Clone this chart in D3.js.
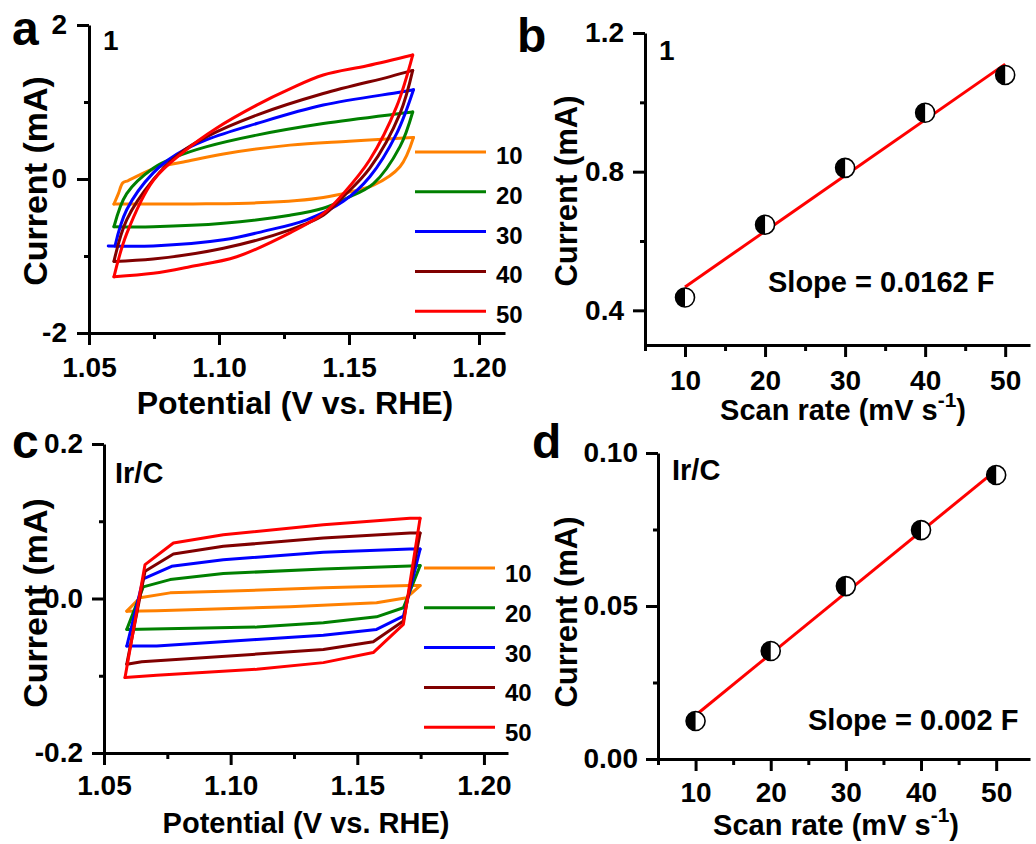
<!DOCTYPE html>
<html lang="en">
<head>
<meta charset="utf-8">
<title>CV and double-layer capacitance</title>
<script src="https://d3js.org/d3.v7.min.js"></script>
<style>
  body { margin: 0; background: #fff; }
  svg text { font-family: "Liberation Sans", Arial, sans-serif; font-weight: bold; fill: #000; }
</style>
</head>
<body>
<div id="chart"></div>
<script>
// ---------------- data ----------------
// scan rates (mV/s) used for legend and linear fits
const scanRates = [10, 20, 30, 40, 50];
const seriesColors = ["#ff8000", "#008000", "#0000ff", "#800000", "#ff0000"];

// panel a: CV loops of sample 1, [potential V, current mA]
const cvA10 = [[1.0596,-0.325],[1.0760,-0.325],[1.0950,-0.322],[1.1145,-0.31],[1.1300,-0.28],[1.1401,-0.24],[1.1500,-0.17],[1.1594,-0.08],[1.1696,0.16],[1.1748,0.54],
               [1.1696,0.53],[1.1500,0.49],[1.1273,0.44],[1.1017,0.325],[1.0863,0.22],[1.0760,0.15],[1.0651,-0.02],[1.0630,-0.05],[1.0613,-0.19],[1.0596,-0.325]];
const cvA20 = [[1.0596,-0.62],[1.0747,-0.62],[1.1017,-0.575],[1.1273,-0.47],[1.1401,-0.38],[1.1491,-0.25],[1.1594,-0.06],[1.1696,0.42],[1.1745,0.87],
               [1.1696,0.85],[1.1401,0.72],[1.1145,0.57],[1.0953,0.42],[1.0837,0.29],[1.0747,0.14],[1.0645,-0.19],[1.0596,-0.62]];
const cvA30 = [[1.0574,-0.87],[1.0747,-0.87],[1.1017,-0.79],[1.1170,-0.68],[1.1337,-0.53],[1.1478,-0.29],[1.1580,0.03],[1.1683,0.59],[1.1748,1.16],
               [1.1700,1.13],[1.1401,0.96],[1.1145,0.72],[1.0953,0.51],[1.0837,0.32],[1.0747,0.08],[1.0645,-0.40],[1.0600,-0.87]];
const cvA40 = [[1.0596,-1.07],[1.0747,-1.04],[1.1017,-0.90],[1.1273,-0.66],[1.1401,-0.47],[1.1478,-0.23],[1.1580,0.14],[1.1696,0.85],[1.1745,1.41],
               [1.1658,1.33],[1.1401,1.11],[1.1145,0.83],[1.0953,0.55],[1.0848,0.33],[1.0747,-0.01],[1.0645,-0.53],[1.0596,-1.07]];
const cvA50 = [[1.0596,-1.27],[1.0747,-1.225],[1.0888,-1.14],[1.1068,-1.01],[1.1273,-0.70],[1.1401,-0.45],[1.1478,-0.19],[1.1580,0.25],[1.1683,0.94],[1.1745,1.61],
               [1.1570,1.47],[1.1401,1.35],[1.1273,1.17],[1.1145,0.96],[1.0990,0.66],[1.0863,0.35],[1.0747,-0.02],[1.0645,-0.71],[1.0596,-1.27]];

// panel c: CV loops of Ir/C
const cvC10 = [[1.0590,-0.0164],[1.0708,-0.016],[1.1234,-0.0107],[1.1576,-0.0056],[1.1695,0.001],[1.1748,0.0168],
               [1.1708,0.0168],[1.1366,0.0138],[1.0971,0.0094],[1.0761,0.0073],[1.0642,0.001],[1.0590,-0.0164]];
const cvC20 = [[1.0590,-0.040],[1.1103,-0.037],[1.1366,-0.0314],[1.1576,-0.0237],[1.1682,-0.012],[1.1748,0.0426],
               [1.1708,0.042],[1.1366,0.0383],[1.0971,0.0323],[1.0761,0.0245],[1.0655,0.015],[1.0590,-0.040]];
const cvC30 = [[1.0590,-0.0615],[1.0708,-0.0615],[1.1103,-0.053],[1.1366,-0.0477],[1.1576,-0.040],[1.1682,-0.0228],[1.1748,0.064],
               [1.1708,0.064],[1.1366,0.0598],[1.0971,0.0503],[1.0767,0.0417],[1.0655,0.0254],[1.0590,-0.0615]];
const cvC40 = [[1.0590,-0.085],[1.0649,-0.082],[1.1103,-0.072],[1.1366,-0.066],[1.1563,-0.056],[1.1682,-0.029],[1.1748,0.0848],
               [1.1708,0.0848],[1.1366,0.0783],[1.0971,0.0675],[1.0774,0.0577],[1.0662,0.0352],[1.0590,-0.085]];
const cvC50 = [[1.0583,-0.1023],[1.0708,-0.0994],[1.1103,-0.0916],[1.1366,-0.083],[1.1563,-0.070],[1.1682,-0.0335],[1.1748,0.104],
               [1.1708,0.104],[1.1366,0.0955],[1.0971,0.0826],[1.0774,0.0718],[1.0662,0.0439],[1.0583,-0.1023]];

// panels b and d: current vs scan rate
const currentB = [0.437, 0.647, 0.811, 0.970, 1.079];
const currentD = [0.0124, 0.0353, 0.0565, 0.0748, 0.0928];

// tick labels
const ticksAy = [-2, 0, 2], minorAy = [-1, 1];
const ticksCVx = [1.05, 1.10, 1.15, 1.20], minorCVx = [1.075, 1.125, 1.175];
const ticksBy = [0.4, 0.8, 1.2], minorBy = [0.6, 1.0];
const ticksCy = [-0.2, 0.0, 0.2], minorCy = [-0.1, 0.1];
const ticksDy = [0.00, 0.05, 0.10], minorDy = [0.025, 0.075];
const ticksRate = [10, 20, 30, 40, 50], minorRate = [5, 15, 25, 35, 45];

// ---------------- drawing ----------------
const svg = d3.select("#chart").append("svg")
  .attr("width", 1036).attr("height", 844);

function styleAxis(g, fs) {
  g.select(".domain").attr("stroke", "#000").attr("stroke-width", 3);
  g.selectAll(".tick line").attr("stroke", "#000").attr("stroke-width", 3);
  g.selectAll(".tick text").attr("font-size", fs).attr("fill", "#000");
}

// draws x/y axes with major + minor ticks
function drawAxes(p) {
  const gx = svg.append("g").attr("transform", "translate(0," + p.y.range()[0] + ")");
  gx.call(d3.axisBottom(p.x).tickValues(p.xMinor).tickSize(6).tickSizeOuter(0).tickFormat(""));
  gx.call(styleAxis, p.fs);
  const gx2 = svg.append("g").attr("transform", "translate(0," + p.y.range()[0] + ")");
  gx2.call(d3.axisBottom(p.x).tickValues(p.xTicks).tickSize(12).tickSizeOuter(0)
      .tickPadding(p.xPad).tickFormat(p.xFmt));
  gx2.call(styleAxis, p.fs);
  gx2.select(".domain").remove();

  const gy = svg.append("g").attr("transform", "translate(" + p.x.range()[0] + ",0)");
  gy.call(d3.axisLeft(p.y).tickValues(p.yMinor).tickSize(5).tickSizeOuter(0).tickFormat(""));
  gy.call(styleAxis, p.fs);
  const gy2 = svg.append("g").attr("transform", "translate(" + p.x.range()[0] + ",0)");
  gy2.call(d3.axisLeft(p.y).tickValues(p.yTicks).tickSize(12).tickSizeOuter(0)
      .tickPadding(p.yPad).tickFormat(p.yFmt));
  gy2.call(styleAxis, p.fs);
  gy2.select(".domain").remove();
}

function label(x, y, txt, fs, anchor) {
  return svg.append("text").attr("x", x).attr("y", y)
    .attr("font-size", fs).attr("text-anchor", anchor || "start").text(txt);
}

function yTitle(cx, cy, fs) {
  svg.append("text")
    .attr("transform", "translate(" + cx + "," + cy + ") rotate(-90)")
    .attr("text-anchor", "middle").attr("font-size", fs)
    .text("Current (mA)");
}

function rateTitle(cx, by, fs) {
  const t = svg.append("text").attr("x", cx).attr("y", by)
    .attr("text-anchor", "middle").attr("font-size", fs);
  t.append("tspan").text("Scan rate (mV s");
  t.append("tspan").attr("dy", -13).attr("font-size", fs * 0.72).text("-1");
  t.append("tspan").attr("dy", 13).text(")");
}

// CV panel
function cvPanel(o) {
  const x = d3.scaleLinear().domain(o.xDom).range(o.xRange);
  const y = d3.scaleLinear().domain(o.yDom).range(o.yRange);
  drawAxes({x, y, fs: o.fs, xTicks: ticksCVx, xMinor: minorCVx, xPad: o.xPad, xFmt: d => d.toFixed(2),
            yTicks: o.yTicks, yMinor: o.yMinor, yPad: o.yPad, yFmt: o.yFmt});
  const line = d3.line().x(d => x(d[0])).y(d => y(d[1])).curve(o.curve);
  o.loops.forEach((loop, i) => {
    // split at the vertex-potential corner so the corners stay sharp
    const iMax = d3.maxIndex(loop, d => d[0]);
    [loop.slice(0, iMax + 1), loop.slice(iMax)].forEach(branch => {
      svg.append("path").datum(branch).attr("d", line)
        .attr("fill", "none").attr("stroke", seriesColors[i])
        .attr("stroke-width", 3).attr("stroke-linejoin", "round").attr("stroke-linecap", "round");
    });
  });
  // legend
  scanRates.forEach((r, i) => {
    const ly = o.legY + i * o.legStep;
    svg.append("line").attr("x1", o.legX).attr("x2", o.legX + 71)
      .attr("y1", ly).attr("y2", ly)
      .attr("stroke", seriesColors[i]).attr("stroke-width", 3);
    label(o.legX + 81, ly + o.legDy, r, 24);
  });
  label((o.xRange[0] + o.xRange[1]) / 2 + o.titleDx, o.titleY, "Potential (V vs. RHE)", o.titleFs, "middle");
}

// scan-rate panel with linear fit
function ratePanel(o) {
  const x = d3.scaleLinear().domain(o.xDom).range(o.xRange);
  const y = d3.scaleLinear().domain(o.yDom).range(o.yRange);
  drawAxes({x, y, fs: o.fs, xTicks: ticksRate, xMinor: minorRate, xPad: o.xPad, xFmt: d3.format("d"),
            yTicks: o.yTicks, yMinor: o.yMinor, yPad: o.yPad, yFmt: o.yFmt});
  // least squares fit
  const mx = d3.mean(scanRates), my = d3.mean(o.vals);
  const k = d3.sum(scanRates, (d, i) => (d - mx) * (o.vals[i] - my)) / d3.sum(scanRates, d => (d - mx) ** 2);
  const ends = [scanRates[0], scanRates[scanRates.length - 1]];
  svg.append("path").datum(ends)
    .attr("d", d3.line().x(d => x(d)).y(d => y(my + k * (d - mx))))
    .attr("stroke", "#ff0000").attr("stroke-width", 3).attr("fill", "none");
  const halfArc = d3.arc().innerRadius(0).outerRadius(9.5).startAngle(Math.PI).endAngle(2 * Math.PI);
  const pts = svg.append("g").selectAll("g").data(scanRates).join("g")
    .attr("transform", (d, i) => "translate(" + x(d) + "," + y(o.vals[i]) + ")");
  pts.append("circle").attr("r", 9.5).attr("fill", "#fff").attr("stroke", "#000").attr("stroke-width", 1.6);
  pts.append("path").attr("d", halfArc).attr("fill", "#000");
  rateTitle(o.titleX, o.titleY, o.titleFs);
}

// panel a
cvPanel({xDom: [1.05, 1.21], xRange: [89, 505], yDom: [-2, 2], yRange: [333, 25], fs: 28,
  xPad: 12, yPad: 10, yTicks: ticksAy, yMinor: minorAy, yFmt: d => String(d),
  loops: [cvA10, cvA20, cvA30, cvA40, cvA50], curve: d3.curveCatmullRom.alpha(0.5),
  legX: 415, legY: 152, legStep: 39.8, legDy: 12, titleDx: -2, titleY: 414, titleFs: 32});
yTitle(47, 181, 34);
label(12, 45, "a", 48);
label(103, 50, "1", 28);

// panel b
ratePanel({xDom: [5, 53.1], xRange: [645, 1030], yDom: [0.3, 1.2], yRange: [345, 33], fs: 28,
  xPad: 13, yPad: 9, yTicks: ticksBy, yMinor: minorBy, yFmt: d => d.toFixed(1),
  vals: currentB, titleX: 843, titleY: 420, titleFs: 29});
yTitle(577, 191, 31);
label(517, 52, "b", 48);
label(659, 60, "1", 28);
label(768, 292, "Slope = 0.0162 F", 29);

// panel c
cvPanel({xDom: [1.05, 1.2095], xRange: [104, 508], yDom: [-0.2, 0.2], yRange: [753, 444], fs: 28,
  xPad: 10, yPad: 9, yTicks: ticksCy, yMinor: minorCy, yFmt: d => d.toFixed(1),
  loops: [cvC10, cvC20, cvC30, cvC40, cvC50], curve: d3.curveLinear,
  legX: 424, legY: 568, legStep: 39.8, legDy: 14, titleDx: 0, titleY: 833, titleFs: 29});
yTitle(47, 603, 34);
label(12, 458, "c", 48);
label(115, 483, "Ir/C", 29);

// panel d
ratePanel({xDom: [5, 54.5], xRange: [658, 1030], yDom: [0, 0.10], yRange: [759, 453], fs: 28,
  xPad: 11, yPad: 8, yTicks: ticksDy, yMinor: minorDy, yFmt: d => d.toFixed(2),
  vals: currentD, titleX: 836, titleY: 835, titleFs: 29});
yTitle(577, 612, 31);
label(532, 458, "d", 48);
label(672, 480, "Ir/C", 29);
label(808, 730, "Slope = 0.002 F", 29);
</script>
</body>
</html>
